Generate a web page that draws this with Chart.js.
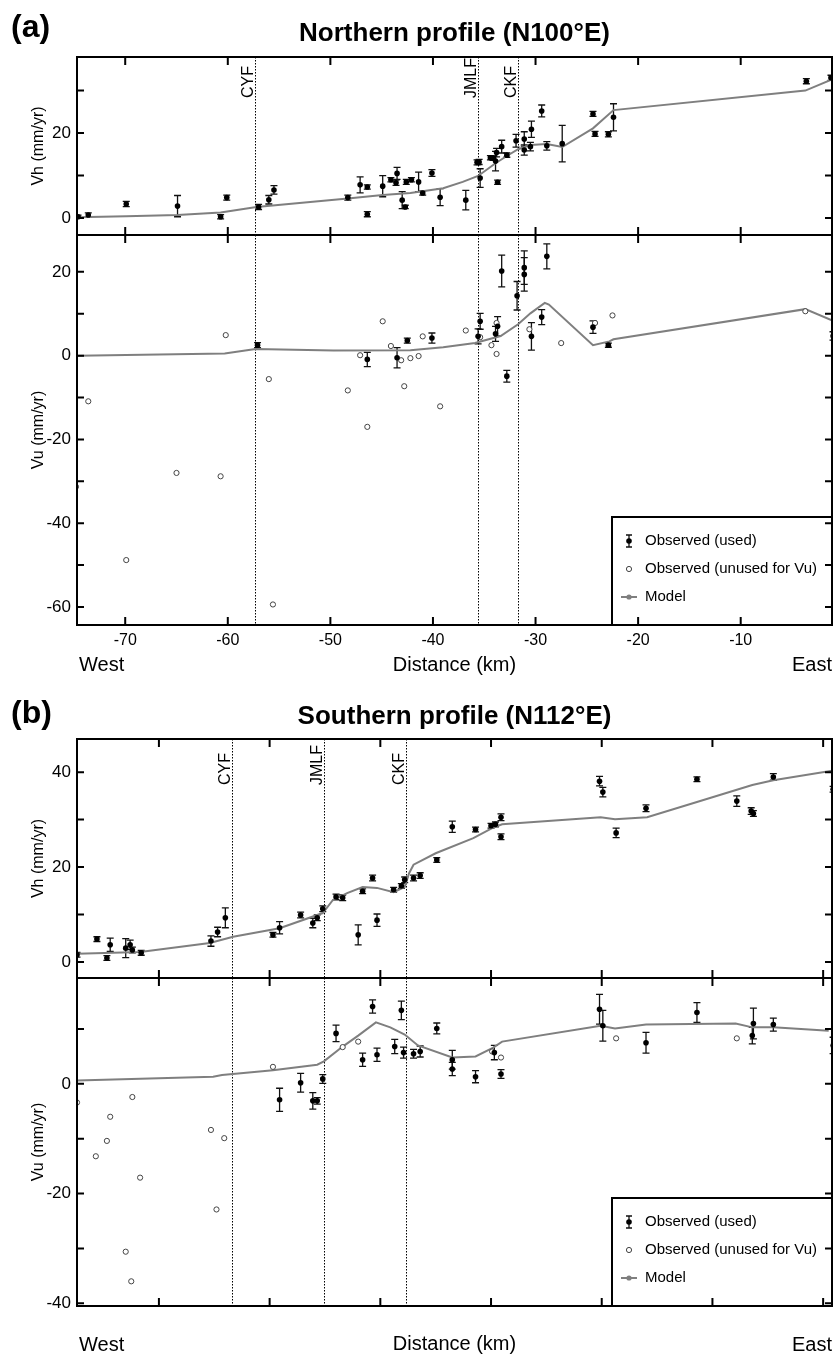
<!DOCTYPE html>
<html>
<head>
<meta charset="utf-8">
<script src="https://cdn.jsdelivr.net/npm/chart.js@4.4.0/dist/chart.umd.min.js"></script>
<style>
  body { margin: 0; background: #fff; }
  #page { position: relative; width: 834px; height: 1356px; overflow: hidden; background: #fff; }
  #page canvas { position: absolute; left: 0; }
</style>
</head>
<body>
<div id="page">
  <canvas id="aVh" width="834" height="240" style="top:0px"></canvas>
  <canvas id="aVu" width="834" height="455" style="top:230px"></canvas>
  <canvas id="bVh" width="834" height="303" style="top:680px"></canvas>
  <canvas id="bVu" width="834" height="383" style="top:973px"></canvas>
</div>
<script>
// ---- (a) northern profile ----
const aXTicks = [-70, -60, -50, -40, -30, -20, -10]
const aVhTicks = [0, 10, 20, 30]
const aVuTicks = [-60, -50, -40, -30, -20, -10, 0, 10, 20]
const aFaults = [-57.3, -35.6, -31.7]

const aVhX = [-74.6, -73.6, -69.9, -64.9, -60.7, -60.1, -57.0, -56.0, -55.5, -48.3, -47.1, -46.4, -46.4, -44.9, -44.1, -43.5, -43.6, -43.0, -42.7, -42.6, -42.1, -41.4, -41.0, -40.1, -39.3, -36.8, -35.7, -35.5, -35.4, -34.4, -34.1, -33.9, -33.8, -33.7, -33.3, -32.8, -31.9, -31.1, -31.1, -30.5, -30.4, -29.4, -28.9, -27.4, -24.4, -24.2, -22.9, -22.4, -3.6, -1.2]
const aVhY = [0.3, 0.7, 3.3, 2.8, 0.3, 4.8, 2.6, 4.3, 6.6, 4.8, 7.8, 7.3, 0.9, 7.5, 9.0, 10.5, 8.3, 4.2, 2.6, 8.5, 9.0, 8.5, 5.9, 10.6, 4.9, 4.2, 13.1, 13.2, 9.4, 14.2, 14.1, 13.4, 15.4, 8.4, 16.8, 14.8, 18.2, 18.6, 16.0, 16.8, 20.9, 25.2, 17.0, 17.5, 24.5, 19.8, 19.7, 23.7, 32.2, 33.0]
const aVhErr = [0.4, 0.5, 0.6, 2.5, 0.5, 0.6, 0.6, 1.0, 1.0, 0.6, 1.9, 0.5, 0.6, 2.5, 0.5, 1.4, 0.6, 2.0, 0.4, 0.6, 0.5, 2.3, 0.5, 0.8, 2.0, 2.3, 0.6, 0.6, 2.2, 0.5, 0.5, 2.3, 1.0, 0.5, 1.5, 0.5, 1.5, 1.7, 1.2, 1.0, 1.9, 1.4, 1.0, 4.3, 0.6, 0.6, 0.6, 3.2, 0.6, 0.6]
const aVhModelX = [-74.7, -69.9, -64.9, -60.7, -57.2, -48.3, -44.9, -42.2, -39.0, -37.1, -35.6, -33.9, -32.8, -31.7, -30.5, -28.9, -27.4, -24.4, -22.4, -3.7, -1.1]
const aVhModelY = [0.2, 0.4, 0.7, 1.3, 2.6, 4.6, 5.4, 5.9, 7.0, 8.5, 9.9, 12.9, 14.6, 16.2, 17.2, 17.4, 16.7, 21.1, 25.4, 30.0, 32.6]

const aVuX = [-57.1, -46.4, -43.5, -42.5, -40.1, -35.6, -35.4, -33.9, -33.7, -33.3, -32.8, -31.8, -31.1, -31.1, -30.4, -29.4, -28.9, -24.4, -22.9, -1.0]
const aVuY = [2.5, -0.9, -0.5, 3.6, 4.2, 4.6, 8.2, 5.2, 7.0, 20.2, -4.9, 14.3, 21.0, 19.4, 4.6, 9.2, 23.7, 6.8, 2.5, 4.7]
const aVuErr = [0.6, 1.7, 2.4, 0.6, 1.2, 1.8, 1.9, 1.8, 2.3, 3.8, 1.4, 3.4, 4.0, 4.0, 3.3, 1.8, 3.0, 1.5, 0.5, 1.0]
const aVuOpenX = [-74.8, -73.6, -69.9, -65.0, -60.7, -60.2, -56.0, -55.6, -48.3, -47.1, -46.4, -44.9, -44.1, -43.1, -42.8, -42.2, -41.4, -41.0, -39.3, -36.8, -35.4, -34.3, -33.8, -33.8, -30.6, -27.5, -24.2, -22.5, -3.7]
const aVuOpenY = [-31.3, -10.9, -48.8, -28.0, -28.8, 4.9, -5.6, -59.4, -8.3, 0.1, -17.0, 8.2, 2.3, -1.1, -7.3, -0.6, -0.1, 4.6, -12.1, 6.0, 4.4, 2.5, 0.4, 7.8, 6.3, 3.0, 7.8, 9.6, 10.6]
const aVuModelX = [-74.7, -60.3, -57.3, -49.7, -42.2, -39.0, -35.9, -33.4, -31.7, -30.5, -29.1, -28.7, -24.4, -22.8, -22.4, -3.7, -1.0]
const aVuModelY = [0.0, 0.5, 1.6, 1.2, 1.3, 2.0, 3.0, 4.7, 7.5, 10.1, 12.6, 12.2, 2.5, 3.4, 3.9, 11.1, 8.3]

// ---- (b) southern profile ----
const bXTicks = [-60, -50, -40, -30, -20, -10, 0]
const bVhTicks = [0, 10, 20, 30, 40]
const bVuTicks = [-40, -30, -20, -10, 0, 10]
const bFaults = [-53.4, -45.1, -37.7]

const bVhX = [-67.4, -65.6, -64.7, -64.4, -63.0, -62.6, -62.4, -61.6, -55.3, -54.7, -54.0, -49.7, -49.1, -47.2, -46.1, -45.7, -45.2, -44.0, -43.4, -42.0, -41.6, -40.7, -40.3, -38.8, -38.1, -37.8, -37.0, -36.4, -34.9, -33.5, -31.4, -30.0, -29.6, -29.1, -29.1, -20.2, -19.9, -18.7, -16.0, -11.4, -7.8, -6.5, -6.3, -4.5, 0.9]
const bVhY = [1.5, 4.8, 0.8, 3.6, 2.9, 3.6, 2.5, 1.9, 4.4, 6.3, 9.3, 5.7, 7.2, 9.9, 8.2, 9.3, 11.2, 13.7, 13.5, 5.7, 14.9, 17.7, 8.8, 15.2, 16.0, 17.3, 17.7, 18.2, 21.5, 28.5, 27.9, 28.7, 29.0, 30.5, 26.4, 38.1, 35.8, 27.2, 32.4, 38.5, 33.9, 31.8, 31.3, 39.0, 36.4]
const bVhErr = [0.5, 0.5, 0.5, 1.4, 2.0, 1.0, 0.6, 0.5, 1.1, 1.0, 2.1, 0.5, 1.3, 0.6, 1.0, 0.6, 0.6, 0.6, 0.6, 2.1, 0.5, 0.6, 1.3, 0.5, 0.5, 0.6, 0.6, 0.6, 0.5, 1.2, 0.5, 0.5, 0.5, 0.7, 0.6, 1.0, 1.0, 1.0, 0.7, 0.5, 1.1, 0.7, 0.6, 0.7, 0.6]
const bVhModelX = [-67.4, -61.7, -55.4, -53.3, -49.1, -45.2, -44.3, -43.0, -41.6, -40.3, -38.8, -37.8, -37.4, -37.0, -35.0, -31.6, -29.9, -29.0, -20.1, -18.8, -15.9, -11.4, -6.4, -4.5, 0.8]
const bVhModelY = [1.7, 2.1, 4.0, 5.3, 7.1, 10.3, 13.0, 14.5, 15.8, 15.6, 14.7, 15.8, 18.7, 20.5, 22.9, 26.1, 28.2, 29.0, 30.5, 30.1, 30.5, 33.7, 37.3, 38.3, 40.3]

const bVuX = [-49.1, -47.2, -46.1, -45.7, -45.2, -44.0, -41.6, -40.7, -40.3, -38.7, -38.1, -37.9, -37.0, -36.4, -34.9, -33.5, -33.5, -31.4, -29.7, -29.1, -20.2, -19.9, -16.0, -11.4, -6.4, -6.3, -4.5, 0.9]
const bVuY = [-2.9, 0.2, -3.1, -3.1, 0.9, 9.2, 4.4, 14.1, 5.3, 6.8, 13.4, 5.7, 5.5, 5.9, 10.1, 4.4, 2.7, 1.3, 5.7, 1.8, 13.6, 10.6, 7.5, 13.0, 8.8, 11.0, 10.8, 7.0]
const bVuErr = [2.1, 1.7, 1.5, 0.6, 0.8, 1.5, 1.2, 1.2, 1.2, 1.3, 1.7, 1.0, 0.8, 1.0, 1.0, 1.7, 1.2, 1.1, 1.3, 0.8, 2.7, 2.8, 1.9, 1.8, 1.5, 2.8, 1.2, 1.5]
const bVuOpenX = [-67.4, -65.7, -64.7, -64.4, -63.0, -62.5, -62.4, -61.7, -55.3, -54.8, -54.1, -49.7, -43.4, -42.0, -29.9, -29.1, -18.7, -7.8]
const bVuOpenY = [-3.4, -13.2, -10.4, -6.0, -30.6, -36.0, -2.4, -17.1, -8.4, -22.9, -9.9, 3.1, 6.7, 7.7, 5.9, 4.8, 8.3, 8.3]
const bVuModelX = [-67.4, -55.1, -54.3, -49.7, -45.7, -45.1, -43.4, -42.0, -40.4, -39.1, -37.8, -36.6, -33.5, -31.4, -29.8, -29.0, -20.1, -18.8, -16.0, -7.9, -6.4, -4.5, 0.5]
const bVuModelY = [0.6, 1.3, 1.6, 2.5, 3.5, 4.1, 6.8, 8.8, 11.2, 10.3, 9.0, 7.0, 4.8, 5.0, 6.6, 7.7, 10.6, 10.1, 10.8, 11.0, 10.3, 10.3, 9.7]

const faultNames = ["CYF", "JMLF", "CKF"]
const FONT = "'Liberation Sans', Arial, sans-serif"

function pts(xs, ys) { return xs.map((x, i) => ({ x: x, y: ys[i] })) }

function noPad(s) {
  s.paddingTop = 0
  s.paddingBottom = 0
  s.paddingLeft = 0
  s.paddingRight = 0
}

const errorBars = {
  id: "errorBars",
  beforeDatasetsDraw(chart) {
    const { ctx, chartArea: ca, scales: { x, y } } = chart
    ctx.save()
    ctx.beginPath()
    ctx.rect(ca.left, ca.top, ca.right - ca.left, ca.bottom - ca.top)
    ctx.clip()
    ctx.strokeStyle = "#111"
    ctx.lineWidth = 1.3
    chart.data.datasets.forEach(ds => {
      if (!ds.errors) return
      ds.data.forEach((p, i) => {
        let px = x.getPixelForValue(p.x)
        let y0 = y.getPixelForValue(p.y - ds.errors[i])
        let y1 = y.getPixelForValue(p.y + ds.errors[i])
        ctx.beginPath()
        ctx.moveTo(px, y0); ctx.lineTo(px, y1)
        ctx.moveTo(px - 3.5, y0); ctx.lineTo(px + 3.5, y0)
        ctx.moveTo(px - 3.5, y1); ctx.lineTo(px + 3.5, y1)
        ctx.stroke()
      })
    })
    ctx.restore()
  }
}

const faults = {
  id: "faults",
  beforeDatasetsDraw(chart, args, o) {
    const { ctx, chartArea: { top, bottom }, scales: { x } } = chart
    ctx.save()
    ctx.strokeStyle = "#000"
    ctx.lineWidth = 1
    ctx.setLineDash([1.5, 1.5])
    o.at.forEach((v, i) => {
      let px = Math.round(x.getPixelForValue(v)) + 0.5
      ctx.beginPath()
      ctx.moveTo(px, top); ctx.lineTo(px, bottom)
      ctx.stroke()
      if (o.labels) {
        ctx.save()
        ctx.translate(px - 3, top + o.labelBottom)
        ctx.rotate(-Math.PI / 2)
        ctx.fillStyle = "#000"
        ctx.font = "16px " + FONT
        ctx.textAlign = "left"
        ctx.textBaseline = "alphabetic"
        ctx.fillText(o.labels[i], 0, 0)
        ctx.restore()
      }
    })
    ctx.restore()
  }
}

const legendBox = {
  id: "legendBox",
  afterDatasetsDraw(chart, args, o) {
    if (!o.show) return
    const { ctx, chartArea: { right, bottom } } = chart
    const left = o.left, top = bottom - o.height
    ctx.save()
    ctx.fillStyle = "#fff"
    ctx.fillRect(left, top, right - left, bottom - top)
    ctx.strokeStyle = "#000"
    ctx.lineWidth = 2
    ctx.strokeRect(left, top, right - left, bottom - top)
    const ds = chart.data.datasets
    const mx = left + 17, tx = left + 33
    ctx.font = "15px " + FONT
    ctx.textBaseline = "middle"
    ctx.fillStyle = "#000"
    o.rows.forEach((dy, i) => {
      let yy = top + dy
      if (i === 0) {
        ctx.strokeStyle = "#111"; ctx.lineWidth = 1.3
        ctx.beginPath()
        ctx.moveTo(mx, yy - 6); ctx.lineTo(mx, yy + 6)
        ctx.moveTo(mx - 3, yy - 6); ctx.lineTo(mx + 3, yy - 6)
        ctx.moveTo(mx - 3, yy + 6); ctx.lineTo(mx + 3, yy + 6)
        ctx.stroke()
        ctx.fillStyle = "#000"
        ctx.beginPath(); ctx.arc(mx, yy, 2.8, 0, Math.PI * 2); ctx.fill()
      } else if (i === 1) {
        ctx.strokeStyle = "#444"; ctx.lineWidth = 1
        ctx.beginPath(); ctx.arc(mx, yy, 2.6, 0, Math.PI * 2); ctx.stroke()
      } else {
        ctx.strokeStyle = "#7f7f7f"; ctx.lineWidth = 2
        ctx.beginPath(); ctx.moveTo(mx - 8, yy); ctx.lineTo(mx + 8, yy); ctx.stroke()
        ctx.fillStyle = "#7f7f7f"
        ctx.beginPath(); ctx.arc(mx, yy, 2.6, 0, Math.PI * 2); ctx.fill()
      }
      ctx.fillStyle = "#000"
      ctx.fillText(ds[i].label, tx, yy)
    })
    ctx.restore()
  }
}

const frame = {
  id: "frame",
  afterDraw(chart, args, o) {
    const { ctx, chartArea: { left, right, top, bottom }, scales: { x, y } } = chart
    ctx.save()
    ctx.strokeStyle = "#000"
    ctx.lineWidth = 2
    ctx.strokeRect(left, top, right - left, bottom - top)
    ctx.beginPath()
    o.xTicks.forEach(v => {
      let px = x.getPixelForValue(v)
      ctx.moveTo(px, top); ctx.lineTo(px, top + 8)
      ctx.moveTo(px, bottom); ctx.lineTo(px, bottom - 8)
    })
    o.yTicks.forEach(v => {
      let py = y.getPixelForValue(v)
      ctx.moveTo(left, py); ctx.lineTo(left + 7, py)
      ctx.moveTo(right, py); ctx.lineTo(right - 7, py)
    })
    ctx.stroke()
    ctx.restore()
  }
}

const texts = {
  id: "texts",
  afterDraw(chart, args, o) {
    const { ctx, chartArea: { left, right } } = chart
    ctx.save()
    ctx.fillStyle = "#000"
    ctx.textBaseline = "middle"
    if (o.tag) {
      ctx.font = "bold 32px " + FONT
      ctx.textAlign = "left"
      ctx.fillText(o.tag, 11, o.tagY)
      ctx.font = "bold 26px " + FONT
      ctx.textAlign = "center"
      ctx.fillText(o.title, (left + right) / 2, o.titleY)
    }
    if (o.sidesY) {
      ctx.font = "20px " + FONT
      ctx.textAlign = "left"
      ctx.fillText("West", 79, o.sidesY)
      ctx.fillText("East", 792, o.sidesY)
    }
    ctx.restore()
  }
}

function makePanel(id, p) {
  let datasets = [{
    label: "Observed (used)",
    data: pts(p.used[0], p.used[1]),
    errors: p.used[2],
    pointRadius: 2.8,
    pointBackgroundColor: "#000",
    pointBorderWidth: 0,
    showLine: false
  }, {
    label: "Observed (unused for Vu)",
    data: p.open ? pts(p.open[0], p.open[1]) : [],
    pointRadius: 2.6,
    pointBackgroundColor: "#fff",
    pointBorderColor: "#444",
    pointBorderWidth: 1,
    showLine: false
  }, {
    label: "Model",
    data: pts(p.model[0], p.model[1]),
    showLine: true,
    borderColor: "#7f7f7f",
    borderWidth: 2,
    pointRadius: 0,
    tension: 0
  }]

  return new Chart(document.getElementById(id), {
    type: "scatter",
    data: { datasets: datasets },
    options: {
      responsive: false,
      animation: false,
      events: [],
      layout: { autoPadding: false, padding: { left: 0, right: 2, top: p.padTop, bottom: p.padBottom } },
      scales: {
        x: {
          type: "linear",
          display: p.xHeight > 0,
          min: p.xRange[0],
          max: p.xRange[1],
          afterBuildTicks: s => { s.ticks = p.xTicks.map(v => ({ value: v })) },
          afterFit: s => { s.height = p.xHeight; noPad(s) },
          grid: { display: false, drawTicks: false },
          border: { display: false },
          ticks: {
            display: p.xLabels,
            color: "#000",
            padding: 6,
            maxRotation: 0,
            autoSkip: false,
            font: { family: FONT, size: 16 },
            callback: v => String(v)
          },
          title: {
            display: true,
            text: "Distance (km)",
            color: "#000",
            font: { family: FONT, size: 20 },
            padding: { top: 0, bottom: p.xTitlePad }
          }
        },
        y: {
          type: "linear",
          min: p.yRange[0],
          max: p.yRange[1],
          afterBuildTicks: s => { s.ticks = p.yTicks.map(v => ({ value: v })) },
          afterFit: s => { s.width = 77; noPad(s) },
          grid: { display: false, drawTicks: false },
          border: { display: false },
          ticks: {
            color: "#000",
            padding: 6,
            font: { family: FONT, size: 17 },
            callback: v => (v % 20 === 0 ? String(v) : "")
          },
          title: {
            display: true,
            text: p.yTitle,
            color: "#000",
            font: { family: FONT, size: 16 },
            padding: { top: 29, bottom: 0 }
          }
        }
      },
      plugins: {
        legend: { display: false },
        tooltip: { enabled: false },
        faults: { at: p.faults, labels: p.faultLabels, labelBottom: p.labelBottom },
        legendBox: { show: p.legend, left: 612, height: 108, rows: [24, 52, 80] },
        frame: { xTicks: p.xTicks, yTicks: p.yTicks },
        texts: { tag: p.tag, title: p.title, tagY: p.tagY, titleY: p.titleY, sidesY: p.sidesY }
      }
    },
    plugins: [errorBars, faults, legendBox, frame, texts]
  })
}

makePanel("aVh", {
  used: [aVhX, aVhY, aVhErr], model: [aVhModelX, aVhModelY],
  xRange: [-74.7, -1.1], xTicks: aXTicks, xHeight: 0, xLabels: false, xTitlePad: 0,
  yRange: [-4, 37.9], yTicks: aVhTicks, yTitle: "Vh (mm/yr)",
  padTop: 57, padBottom: 5,
  faults: aFaults, faultLabels: faultNames, labelBottom: 41,
  legend: false,
  tag: "(a)", title: "Northern profile (N100°E)", tagY: 28, titleY: 34
})

makePanel("aVu", {
  used: [aVuX, aVuY, aVuErr], open: [aVuOpenX, aVuOpenY], model: [aVuModelX, aVuModelY],
  xRange: [-74.7, -1.1], xTicks: aXTicks, xHeight: 60, xLabels: true, xTitlePad: 8,
  yRange: [-64.3, 28.8], yTicks: aVuTicks, yTitle: "Vu (mm/yr)",
  padTop: 5, padBottom: 0,
  faults: aFaults, faultLabels: null,
  legend: true, sidesY: 435
})

makePanel("bVh", {
  used: [bVhX, bVhY, bVhErr], model: [bVhModelX, bVhModelY],
  xRange: [-67.4, 0.8], xTicks: bXTicks, xHeight: 0, xLabels: false, xTitlePad: 0,
  yRange: [-3.4, 47], yTicks: bVhTicks, yTitle: "Vh (mm/yr)",
  padTop: 59, padBottom: 5,
  faults: bFaults, faultLabels: faultNames, labelBottom: 46,
  legend: false,
  tag: "(b)", title: "Southern profile (N112°E)", tagY: 34, titleY: 37
})

makePanel("bVu", {
  used: [bVuX, bVuY, bVuErr], open: [bVuOpenX, bVuOpenY], model: [bVuModelX, bVuModelY],
  xRange: [-67.4, 0.8], xTicks: bXTicks, xHeight: 50, xLabels: false, xTitlePad: 0,
  yRange: [-40.5, 19.3], yTicks: bVuTicks, yTitle: "Vu (mm/yr)",
  padTop: 5, padBottom: 0,
  faults: bFaults, faultLabels: null,
  legend: true, sidesY: 372
})
</script>
</body>
</html>
